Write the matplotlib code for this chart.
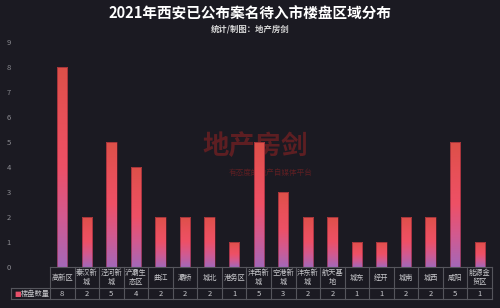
import numpy as np
import matplotlib.pyplot as plt
from matplotlib.colors import LinearSegmentedColormap

plt.rcParams['font.family'] = ['Noto Sans CJK SC', 'DejaVu Sans']

# data
areas = ['高新区', '秦汉新\n城', '泾河新\n城', '浐灞生\n态区', '曲江', '灞桥', '城北', '港务区',
         '沣西新\n城', '空港新\n城', '沣东新\n城', '航天基\n地', '城东', '经开', '城南', '城西',
         '咸阳', '能源金\n贸区']
counts = [8, 2, 5, 4, 2, 2, 2, 1, 5, 3, 2, 2, 1, 1, 2, 2, 5, 1]
series_name = '楼盘数量'
yticks = list(range(0, 10))

bg = '#1b1a22'
grid_c = '#55555c'
text_c = '#c8c8cc'

fig = plt.figure(figsize=(5, 3.08), dpi=100, facecolor=bg)
ax = fig.add_axes([0.1, 0.133, 0.884, 0.731], facecolor=bg)

x = np.arange(len(areas))
bars = ax.bar(x, counts, width=0.42, color='none', edgecolor='#7a2030', linewidth=0.4, zorder=3)

# vertical gradient inside each bar (purple bottom -> red top)
cmap = LinearSegmentedColormap.from_list('g', ['#a468b8', '#d25a90', '#ee5066', '#e85058', '#dc5048'])
grad = np.linspace(0, 1, 256).reshape(-1, 1)
for b in bars:
    x0, w, h = b.get_x(), b.get_width(), b.get_height()
    im = ax.imshow(grad, extent=[x0, x0 + w, 0, h], origin='lower', cmap=cmap,
                   aspect='auto', zorder=2)
    im.set_clip_path(b)

ax.set_xlim(-0.5, len(areas) - 0.5)
ax.set_ylim(0, 9)
ax.set_yticks(yticks)
ax.set_yticklabels([str(v) for v in yticks], color='#8c8c92', fontsize=5.5)
ax.tick_params(axis='y', length=0, pad=28)
ax.set_xticks([])
for s in ax.spines.values():
    s.set_visible(False)

# watermark
ax.text(0.464, 0.535, '地产房剑', transform=ax.transAxes, ha='center', va='center',
        fontsize=19, fontweight='bold', fontstyle='italic', color='#8a2222', alpha=0.6, zorder=1)
ax.text(0.5, 0.42, '有态度的地产自媒体平台', transform=ax.transAxes, ha='center', va='center',
        fontsize=5.5, color='#8a2222', alpha=0.6, zorder=1)

# data table under the axis
h1, h2 = 21 / 225, 11 / 225
tr = ax.get_xaxis_transform()
kw = dict(transform=tr, clip_on=False, color=grid_c, linewidth=0.8)
left = -0.5
right = len(areas) - 0.5
lab_left = left - 39 / 442 * len(areas)
ax.plot([left, right], [0, 0], **kw)
ax.plot([lab_left, right], [-h1, -h1], **kw)
ax.plot([lab_left, right], [-h1 - h2, -h1 - h2], **kw)
ax.plot([lab_left, lab_left], [-h1, -h1 - h2], **kw)
for i in range(len(areas) + 1):
    ax.plot([i - 0.5, i - 0.5], [0, -h1 - h2], **kw)
for i, (a, c) in enumerate(zip(areas, counts)):
    ax.text(i, -h1 / 2, a, transform=tr, ha='center', va='center', fontsize=5.2,
            color=text_c, linespacing=1.2)
    ax.text(i, -h1 - h2 / 2, str(c), transform=tr, ha='center', va='center', fontsize=5.5,
            color=text_c)
ax.text(lab_left + 0.12, -h1 - h2 / 2, '■', transform=tr, ha='left', va='center',
        fontsize=5, color='#e8506a', family=['DejaVu Sans'])
ax.text(lab_left + 0.38, -h1 - h2 / 2, series_name, transform=tr, ha='left', va='center',
        fontsize=5.2, color=text_c)

fig.text(0.5, 0.955, '2021年西安已公布案名待入市楼盘区域分布', ha='center', va='center',
         fontsize=10.5, fontweight='bold', color='white')
fig.text(0.5, 0.905, '统计/制图：地产房剑', ha='center', va='center',
         fontsize=6, fontweight='bold', color='#d8d8d8')

fig.savefig('out.png', dpi=100, facecolor=bg)
